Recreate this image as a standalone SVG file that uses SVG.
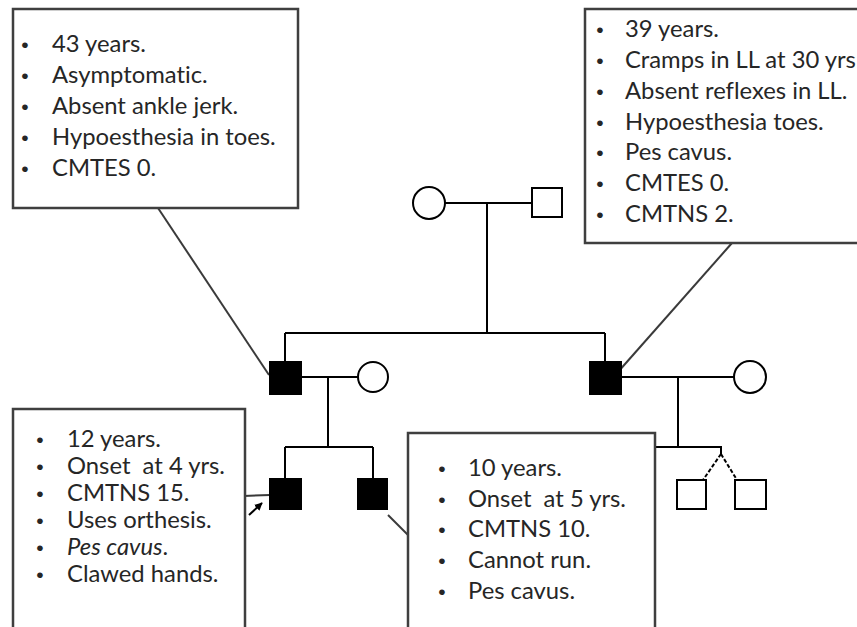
<svg xmlns="http://www.w3.org/2000/svg" width="857" height="627" viewBox="0 0 857 627">
<defs>
<style>
.ln{stroke:#000;stroke-width:2;fill:none}
.cn{stroke:#3a3a3a;stroke-width:2;fill:none}
.box{fill:#fff;stroke:#3f3f3f;stroke-width:2.5}
.aff{fill:#000;stroke:#000;stroke-width:2}
.un{fill:#fff;stroke:#000;stroke-width:2}
.t{font-family:Lato,"Liberation Sans",sans-serif;font-size:23.8px;fill:#262626;white-space:pre;font-variant-ligatures:none}
.b{font-family:"Liberation Sans",sans-serif;font-size:21px;fill:#262626;text-anchor:middle}
</style>
<marker id="ah" viewBox="0 0 10 10" refX="9" refY="5" markerWidth="4" markerHeight="4" orient="auto">
<path d="M0,0 L10,5 L0,10 z" fill="#000"/>
</marker>
</defs>
<rect width="857" height="627" fill="#fff"/>

<g id="connectors">
<line class="ln" x1="445" y1="203" x2="532" y2="203"/>
<line class="ln" x1="487" y1="203" x2="487" y2="333"/>
<line class="ln" x1="285" y1="333" x2="605" y2="333"/>
<line class="ln" x1="285" y1="333" x2="285" y2="362"/>
<line class="ln" x1="605" y1="333" x2="605" y2="362"/>
<line class="ln" x1="301" y1="377" x2="358" y2="377"/>
<line class="ln" x1="328" y1="377" x2="328" y2="447"/>
<line class="ln" x1="285" y1="447" x2="373" y2="447"/>
<line class="ln" x1="285" y1="447" x2="285" y2="479"/>
<line class="ln" x1="373" y1="447" x2="373" y2="479"/>
<line class="ln" x1="621" y1="377" x2="734" y2="377"/>
<line class="ln" x1="678" y1="377" x2="678" y2="447"/>
<polyline class="ln" points="656,447 721,447 721,454"/>
<line class="ln" x1="721" y1="454" x2="703" y2="480" stroke-dasharray="4 2"/>
<line class="ln" x1="721" y1="454" x2="737" y2="480" stroke-dasharray="4 2"/>
<line class="cn" x1="158" y1="208" x2="269" y2="375"/>
<line class="cn" x1="732" y1="243" x2="618" y2="372"/>
<line class="cn" x1="243" y1="496" x2="270" y2="495"/>
<line class="cn" x1="388" y1="515" x2="408" y2="535"/>
<line x1="249" y1="515" x2="262" y2="503" stroke="#000" stroke-width="2" marker-end="url(#ah)"/>
</g>

<g id="gen1-mother"><circle class="un" cx="429" cy="203" r="16"/></g>
<g id="gen1-father"><rect class="un" x="532" y="188" width="30" height="29"/></g>
<g id="gen2-son1"><rect class="aff" x="270" y="362" width="31" height="32"/></g>
<g id="gen2-wife1"><circle class="un" cx="373" cy="377" r="15"/></g>
<g id="gen2-son2"><rect class="aff" x="590" y="362" width="31" height="32"/></g>
<g id="gen2-wife2"><circle class="un" cx="750" cy="377" r="16"/></g>
<g id="gen3-proband"><rect class="aff" x="270" y="479" width="31" height="30"/></g>
<g id="gen3-brother"><rect class="aff" x="358" y="479" width="29" height="30"/></g>
<g id="gen3-twin1"><rect class="un" x="677" y="480" width="29" height="29"/></g>
<g id="gen3-twin2"><rect class="un" x="735" y="480" width="31" height="29"/></g>

<g id="box-topleft">
<rect class="box" x="13" y="9" width="285" height="199"/>
<text class="b" x="25" y="52">•</text><text class="t" x="52" y="52">43 years.</text>
<text class="b" x="25" y="83">•</text><text class="t" x="52" y="83">Asymptomatic.</text>
<text class="b" x="25" y="114">•</text><text class="t" x="52" y="114">Absent ankle jerk.</text>
<text class="b" x="25" y="145">•</text><text class="t" x="52" y="145">Hypoesthesia in toes.</text>
<text class="b" x="25" y="176">•</text><text class="t" x="52" y="176">CMTES 0.</text>
</g>

<g id="box-topright">
<rect class="box" x="585" y="9" width="300" height="234"/>
<text class="b" x="600" y="37">•</text><text class="t" x="625" y="37">39 years.</text>
<text class="b" x="600" y="68">•</text><text class="t" x="625" y="68">Cramps in LL at 30 yrs</text>
<text class="b" x="600" y="99">•</text><text class="t" x="625" y="99">Absent reflexes in LL.</text>
<text class="b" x="600" y="130">•</text><text class="t" x="625" y="130">Hypoesthesia toes.</text>
<text class="b" x="600" y="160">•</text><text class="t" x="625" y="160">Pes cavus.</text>
<text class="b" x="600" y="191">•</text><text class="t" x="625" y="191">CMTES 0.</text>
<text class="b" x="600" y="222">•</text><text class="t" x="625" y="222">CMTNS 2.</text>
</g>

<g id="box-bottomleft">
<rect class="box" x="13" y="409" width="232" height="240"/>
<text class="b" x="40" y="447">•</text><text class="t" x="67" y="447">12 years.</text>
<text class="b" x="40" y="474">•</text><text class="t" x="67" y="474">Onset  at 4 yrs.</text>
<text class="b" x="40" y="501">•</text><text class="t" x="67" y="501">CMTNS 15.</text>
<text class="b" x="40" y="528">•</text><text class="t" x="67" y="528">Uses orthesis.</text>
<text class="b" x="40" y="555">•</text><text class="t" x="67" y="555"><tspan font-style="italic">Pes cavus</tspan>.</text>
<text class="b" x="40" y="582">•</text><text class="t" x="67" y="582">Clawed hands.</text>
</g>

<g id="box-bottommiddle">
<rect class="box" x="408" y="433" width="247" height="220"/>
<text class="b" x="442" y="476">•</text><text class="t" x="468" y="476">10 years.</text>
<text class="b" x="442" y="507">•</text><text class="t" x="468" y="507">Onset  at 5 yrs.</text>
<text class="b" x="442" y="537">•</text><text class="t" x="468" y="537">CMTNS 10.</text>
<text class="b" x="442" y="568">•</text><text class="t" x="468" y="568">Cannot run.</text>
<text class="b" x="442" y="599">•</text><text class="t" x="468" y="599">Pes cavus.</text>
</g>
</svg>
